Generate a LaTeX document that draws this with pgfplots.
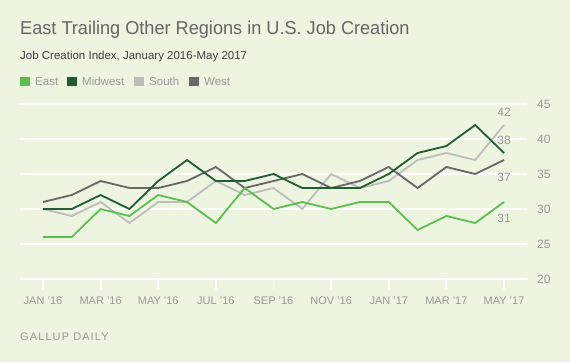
\documentclass[border=0pt]{standalone}
\usepackage{fontspec}
\setmainfont{Liberation Sans}
\newfontfamily\titlefont{Liberation Sans}[FakeStretch=0.975]
\usepackage{pgfplots}
\pgfplotsset{compat=1.18}
\definecolor{bg}{HTML}{EDF4DF}
\definecolor{east}{HTML}{5BBF4E}
\definecolor{midwest}{HTML}{215C34}
\definecolor{south}{HTML}{BDBDBD}
\definecolor{west}{HTML}{676767}
\definecolor{txt}{HTML}{999999}
\definecolor{ttl}{HTML}{666666}
\begin{document}
\begin{tikzpicture}
\fill[bg] (0pt,0pt) rectangle (570pt,-362pt);
\useasboundingbox (0pt,0pt) rectangle (570pt,-362pt);
\node[anchor=base west, inner sep=0, text=ttl, font=\titlefont\fontsize{18.6}{22}\selectfont] at (20pt,-34pt) {East Trailing Other Regions in U.S. Job Creation};
\node[anchor=base west, inner sep=0, text=black!75, font=\fontsize{11.5}{13}\selectfont] at (20pt,-59pt) {Job Creation Index, January 2016-May 2017};
\fill[east] (20pt,-77pt) rectangle (30pt,-86pt);
\node[anchor=base west, inner sep=0, text=txt, font=\fontsize{11.5}{13}\selectfont] at (35pt,-85pt) {East};
\fill[midwest] (67pt,-77pt) rectangle (77pt,-86pt);
\node[anchor=base west, inner sep=0, text=txt, font=\fontsize{11.5}{13}\selectfont] at (82pt,-85pt) {Midwest};
\fill[south] (134pt,-77pt) rectangle (144pt,-86pt);
\node[anchor=base west, inner sep=0, text=txt, font=\fontsize{11.5}{13}\selectfont] at (149pt,-85pt) {South};
\fill[west] (189pt,-77pt) rectangle (199pt,-86pt);
\node[anchor=base west, inner sep=0, text=txt, font=\fontsize{11.5}{13}\selectfont] at (204pt,-85pt) {West};
\node[anchor=base west, inner sep=0, text=txt, font=\fontsize{11}{13}\selectfont\addfontfeatures{LetterSpace=10}] at (20pt,-340pt) {GALLUP DAILY};
\begin{axis}[at={(20pt,-279pt)}, anchor=south west, scale only axis,
  width=507pt, height=175pt,
  xmin=-0.798, xmax=16.798, ymin=20, ymax=45,
  axis x line*=bottom, axis y line*=right,
  x axis line style={draw=white, line width=1.6pt},
  y axis line style={draw=none},
  ytick={20,25,...,45},
  ymajorgrids, grid style={white, line width=1.6pt},
  ytick style={draw=none},
  xtick={0,2,...,16},
  xticklabels={JAN '16,MAR '16,MAY '16,JUL '16,SEP '16,NOV '16,JAN '17,MAR '17,MAY '17},
  xtick style={draw=none},
  xtick align=outside, major tick length=10pt,
  /pgf/number format/assume math mode=true,
  tick label style={text=txt},
  xticklabel style={font=\fontsize{11}{13}\selectfont, anchor=base, inner sep=0pt, yshift=-15pt},
  yticklabel style={font=\fontsize{12}{14}\selectfont, anchor=west, inner sep=0pt, xshift=10pt},
  clip=false,
  every axis plot/.append style={line width=1.8pt, no markers},
]
\pgfplotsinvokeforeach{0,2,...,16}{
  \draw[white, line width=1.8pt] (axis cs:#1,20) -- ([yshift=-10pt]axis cs:#1,20);
}
\addplot[south] coordinates {(0,30)(1,29)(2,31)(3,28)(4,31)(5,31)(6,34)(7,32)(8,33)(9,30)(10,35)(11,33)(12,34)(13,37)(14,38)(15,37)(16,42)};
\addplot[west] coordinates {(0,31)(1,32)(2,34)(3,33)(4,33)(5,34)(6,36)(7,33)(8,34)(9,35)(10,33)(11,34)(12,36)(13,33)(14,36)(15,35)(16,37)};
\addplot[midwest] coordinates {(0,30)(1,30)(2,32)(3,30)(4,34)(5,37)(6,34)(7,34)(8,35)(9,33)(10,33)(11,33)(12,35)(13,38)(14,39)(15,42)(16,38)};
\addplot[east] coordinates {(0,26)(1,26)(2,30)(3,29)(4,32)(5,31)(6,28)(7,33)(8,30)(9,31)(10,30)(11,31)(12,31)(13,27)(14,29)(15,28)(16,31)};
\node[text=txt, font=\fontsize{12}{14}\selectfont] at (axis cs:16,43.8) {42};
\node[text=txt, font=\fontsize{12}{14}\selectfont] at (axis cs:16,39.86) {38};
\node[text=txt, font=\fontsize{12}{14}\selectfont] at (axis cs:16,34.5) {37};
\node[text=txt, font=\fontsize{12}{14}\selectfont] at (axis cs:16,28.67) {31};
\end{axis}
\end{tikzpicture}
\end{document}
